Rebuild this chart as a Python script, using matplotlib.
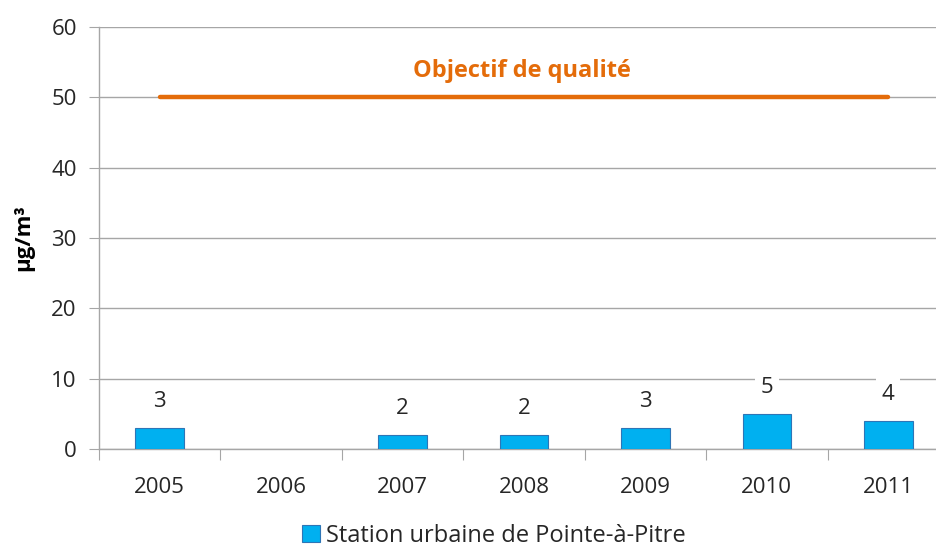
import numpy as np
import matplotlib.pyplot as plt

# data
years = ["2005", "2006", "2007", "2008", "2009", "2010", "2011"]
values = [3, np.nan, 2, 2, 3, 5, 4]
objectif = 50
series_name = "Station urbaine de Pointe-à-Pitre"

plt.rcParams['font.family'] = ['Open Sans', 'DejaVu Sans']

fig = plt.figure(figsize=(9.36, 5.5), dpi=100)
ax = fig.add_axes([99 / 936, 1 - 449 / 550, 850 / 936, 422 / 550])

x = np.arange(len(years))
grid_c = "#A6A6A6"
txt_c = "#262626"

# bars
ax.bar(x, values, width=0.4, color="#00B0F0", edgecolor="#2E75B6",
       linewidth=0.8, label=series_name, zorder=3)

# value labels
for xi, v in zip(x, values):
    if np.isnan(v):
        continue
    ax.annotate(f"{v:g}", (xi, v), xytext=(0, 19), textcoords="offset points",
                ha="center", va="center", fontsize=16, color=txt_c,
                bbox=dict(boxstyle="square,pad=0.25", fc="white", ec="none"),
                zorder=4)

# quality objective line
ax.plot([x[0], x[-1]], [objectif, objectif], color="#E46C0A", linewidth=3.2,
        solid_capstyle="round", zorder=4)
ax.text((x[0] + x[-1]) / 2 - 0.02, objectif + 3.8, "Objectif de qualité",
        ha="center", va="center", fontsize=17, fontweight="bold",
        color="#E46C0A")

# axes
ax.set_xlim(-0.5, len(years) - 0.5)
ax.set_ylim(0, 60)
ax.set_yticks(range(0, 61, 10))
ax.yaxis.grid(True, color=grid_c, linewidth=1)
ax.set_axisbelow(True)

ax.set_xticks(np.arange(-0.5, len(years), 1))
ax.set_xticklabels([])
ax.set_xticks(x, minor=True)
ax.set_xticklabels(years, minor=True)
ax.tick_params(axis="x", which="major", length=8, color=grid_c, direction="out")
ax.tick_params(axis="x", which="minor", length=0, pad=20, labelsize=16,
               labelcolor=txt_c)
ax.tick_params(axis="y", length=7, color=grid_c, pad=9, labelsize=16,
               labelcolor=txt_c)

for s in ["top", "right"]:
    ax.spines[s].set_visible(False)
for s in ["left", "bottom"]:
    ax.spines[s].set_color(grid_c)
    ax.spines[s].set_linewidth(1)

ax.set_ylabel("µg/m³", fontsize=16, fontweight="bold", labelpad=12)

fig.legend(loc="center", bbox_to_anchor=(494 / 936, 1 - 536 / 550),
           frameon=False, fontsize=17, handlelength=0.75, handleheight=0.75,
           handletextpad=0.25, borderpad=0.2, labelcolor=txt_c)

fig.savefig("out.png", dpi=100)
